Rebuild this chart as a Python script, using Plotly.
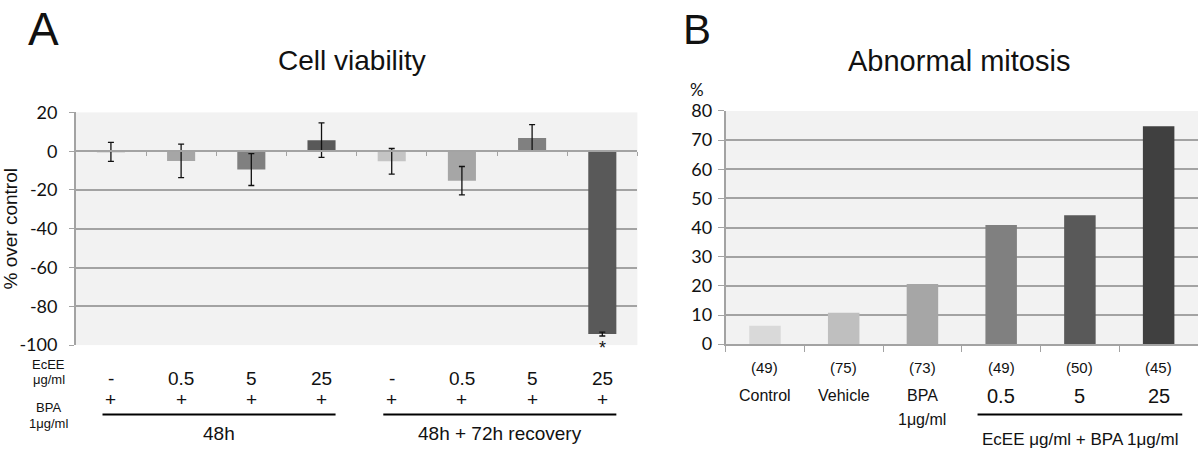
import plotly.graph_objects as go

# ---------------- data ----------------
# Panel A: cell viability (% over control)
groups_a = ["48h", "48h", "48h", "48h",
            "48h + 72h recovery", "48h + 72h recovery", "48h + 72h recovery", "48h + 72h recovery"]
ecee_a = ["-", "0.5", "5", "25", "-", "0.5", "5", "25"]
bpa_a = ["+", "+", "+", "+", "+", "+", "+", "+"]
viability = [-0.4, -5.0, -9.5, 5.7, -5.2, -15.2, 6.8, -94.3]
viability_err = [4.9, 8.6, 8.2, 8.9, 6.6, 7.3, 6.9, 1.0]
signif_a = ["", "", "", "", "", "", "", "*"]
colors_a = ["#c4c4c4", "#a6a6a6", "#808080", "#595959",
            "#c4c4c4", "#a6a6a6", "#808080", "#595959"]

# Panel B: abnormal mitosis (%)
labels_b = ["Control", "Vehicle", "BPA<br>1\u03bcg/ml", "0.5", "5", "25"]
n_b = ["(49)", "(75)", "(73)", "(49)", "(50)", "(45)"]
mitosis = [6.3, 10.8, 20.6, 40.9, 44.2, 74.8]
colors_b = ["#d9d9d9", "#bfbfbf", "#a6a6a6", "#808080", "#595959", "#404040"]

yticks_a = [20, 0, -20, -40, -60, -80, -100]
yticks_b = [0, 10, 20, 30, 40, 50, 60, 70, 80]

# ---------------- layout helpers ----------------
W, H = 1200, 456
def fx(px):
    return px / W
def fy(py):
    return 1 - py / H

ARIAL = "Liberation Sans, Arial, sans-serif"
CAL = "Lato, Carlito, Calibri, sans-serif"
GRID = "#a3a3a3"

cats_a = [f"{g} {e}" for g, e in zip(groups_a, ecee_a)]
cats_b = [f"b{i}" for i in range(len(labels_b))]

fig = go.Figure()
fig.add_trace(go.Bar(
    x=cats_a, y=viability, marker=dict(color=colors_a, line=dict(width=0)),
    error_y=dict(type="data", array=viability_err, visible=True,
                 color="#111111", thickness=1.3, width=3),
    xaxis="x", yaxis="y", showlegend=False, hoverinfo="skip",
))
fig.add_trace(go.Bar(
    x=cats_b, y=mitosis, marker=dict(color=colors_b, line=dict(width=0)),
    xaxis="x2", yaxis="y2", showlegend=False, hoverinfo="skip",
))

ydomA = [fy(350), fy(105.5)]
ydomB = [fy(349), fy(104)]
yminA, ymaxA = -100, 20
zero_pos = ydomA[0] + (0 - yminA) / (ymaxA - yminA) * (ydomA[1] - ydomA[0])

fig.update_layout(
    width=W, height=H,
    margin=dict(l=0, r=0, t=0, b=0),
    paper_bgcolor="white",
    bargap=0.6,
    xaxis=dict(domain=[fx(73), fx(636)], anchor="free", position=zero_pos,
               type="category", categoryorder="array", categoryarray=cats_a,
               showticklabels=False, showgrid=False, showline=True,
               linecolor=GRID, linewidth=1.5, ticks="outside", tickson="boundaries",
               ticklen=4, tickcolor=GRID, tickwidth=1.3, fixedrange=True),
    yaxis=dict(domain=ydomA, anchor="x", range=[yminA, ymaxA],
               tickvals=yticks_a, ticktext=[str(v) for v in yticks_a],
               showgrid=True, gridcolor=GRID, gridwidth=1.5, zeroline=False,
               showline=True, linecolor=GRID, linewidth=1.5,
               ticks="outside", ticklen=5, tickcolor=GRID, tickwidth=1.3,
               ticklabelstandoff=8,
               tickfont=dict(family=CAL, size=18, color="#111111"),
               title=dict(text="% over control", font=dict(family=ARIAL, size=19, color="#111111"),
                          standoff=6)),
    xaxis2=dict(domain=[fx(724.4), fx(1198)], anchor="y2",
                type="category", categoryorder="array", categoryarray=cats_b,
                showticklabels=False, showgrid=False, showline=True,
                linecolor=GRID, linewidth=1.5, ticks="outside", tickson="boundaries",
                ticklen=6, tickcolor=GRID, tickwidth=1.3),
    yaxis2=dict(domain=ydomB, anchor="x2", range=[0, 80],
                tickvals=yticks_b, ticktext=[str(v) for v in yticks_b],
                showgrid=True, gridcolor=GRID, gridwidth=1.5, zeroline=False,
                showline=True, linecolor=GRID, linewidth=1.5,
                ticks="outside", ticklen=6, tickcolor=GRID, tickwidth=1.3,
                ticklabelstandoff=2,
                tickfont=dict(family=CAL, size=18, color="#111111")),
    plot_bgcolor="#f2f2f2",
)

ann = []
def add(text, x, y, size, xref="paper", yref="paper", family=ARIAL, xanchor="center", yanchor="middle"):
    ann.append(dict(text=text, x=x, y=y, xref=xref, yref=yref, showarrow=False,
                    font=dict(family=family, size=size, color="#111111"),
                    xanchor=xanchor, yanchor=yanchor))

# panel letters and titles
add("A", fx(41), fy(18), 46)
add("B", fx(696), fy(18), 42)
add("Cell viability", fx(350), fy(51), 28)
add("Abnormal mitosis", fx(958), fy(52), 29)
add("%", fx(696), fy(81), 17, family=CAL)

# panel A significance
for c, s, v, e in zip(cats_a, signif_a, viability, viability_err):
    if s:
        add(s, c, v - e, 18, xref="x", yref="y", yanchor="top")

# panel A table
add("EcEE", fx(46), fy(370), 13)
add("\u03bcg/ml", fx(46), fy(386), 13)
add("BPA", fx(46), fy(416), 13)
add("1\u03bcg/ml", fx(46), fy(432), 13)
for c, e, b in zip(cats_a, ecee_a, bpa_a):
    add(e, c, fy(385), 19, xref="x")
    add(b, c, fy(407), 19, xref="x")
uniq_groups = list(dict.fromkeys(groups_a))
for g in uniq_groups:
    idx = [i for i, gg in enumerate(groups_a) if gg == g]
    x0, x1 = idx[0] - 0.12, idx[-1] + 0.2
    fig.add_shape(type="line", xref="x", yref="paper", x0=x0, x1=x1,
                  y0=fy(423), y1=fy(423), line=dict(color="black", width=2))
    add(g, (x0 + x1) / 2, fy(443), 19, xref="x")

# panel B table
for i, (c, lab, n) in enumerate(zip(cats_b, labels_b, n_b)):
    add(n, c, fy(374), 15, xref="x2")
    if "<br>" in lab:
        l1, l2 = lab.split("<br>")
        add(l1, c, fy(403), 16, xref="x2")
        add(l2, c, fy(428), 16, xref="x2")
    elif lab[0].isdigit():
        add(lab, c, fy(403), 20, xref="x2")
    else:
        add(lab, c, fy(403), 16, xref="x2")
fig.add_shape(type="line", xref="x2", yref="paper", x0=2.7, x1=5.3,
              y0=fy(423), y1=fy(423), line=dict(color="black", width=2))
add("EcEE \u03bcg/ml + BPA 1\u03bcg/ml", 4.0, fy(449), 17, xref="x2")

fig.update_layout(annotations=ann)
fig.write_html("out.html", config={"displayModeBar": False},
               post_script="document.body.style.margin='0';document.body.style.overflow='hidden';")
